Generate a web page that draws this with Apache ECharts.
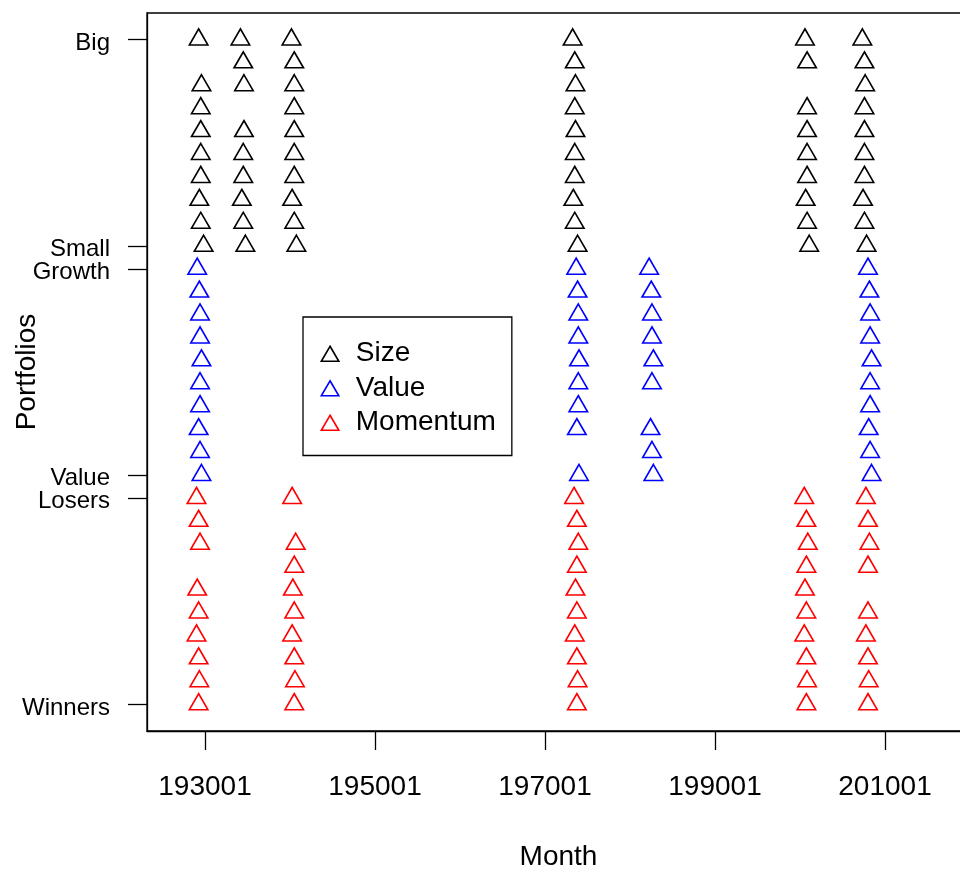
<!DOCTYPE html>
<html>
<head>
<meta charset="utf-8">
<script src="https://cdn.jsdelivr.net/npm/echarts@6/dist/echarts.min.js"></script>
<style>html,body{margin:0;padding:0;background:#fff;}#c{width:960px;height:869px;}</style>
</head>
<body>
<div id="c"></div>
<script>
// Tick labels
const xTickMonths = [193001, 195001, 197001, 199001, 201001];
const yTickPositions = [1, 10, 11, 20, 21, 30];
const yTickLabels = ['Winners', 'Losers', 'Value', 'Growth', 'Small', 'Big'];
const seriesNames = ['Size', 'Value', 'Momentum'];
const seriesColors = ['#000000', '#0000FF', '#FF0000'];

// Size portfolios (21 = Small ... 30 = Big)
const sizeMonths = [
  192904, 192908, 192907, 192907, 192907, 192907, 192905, 192907, 192911,
  193403, 193407, 193408, 193408, 193407, 193407, 193405, 193407, 193410,
  194003, 194007, 194007, 194007, 194007, 194007, 194007, 194004, 194007, 194010,
  197304, 197307, 197308, 197307, 197308, 197307, 197307, 197305, 197307, 197311,
  200008, 200011, 200011, 200011, 200011, 200011, 200009, 200011, 200102,
  200705, 200708, 200709, 200708, 200708, 200708, 200708, 200706, 200708, 200711
];
const sizePortfolios = [
  30, 28, 27, 26, 25, 24, 23, 22, 21,
  30, 29, 28, 26, 25, 24, 23, 22, 21,
  30, 29, 28, 27, 26, 25, 24, 23, 22, 21,
  30, 29, 28, 27, 26, 25, 24, 23, 22, 21,
  30, 29, 27, 26, 25, 24, 23, 22, 21,
  30, 29, 28, 27, 26, 25, 24, 23, 22, 21
];

// Value portfolios (11 = Value ... 20 = Growth)
const valueMonths = [
  192902, 192905, 192906, 192906, 192908, 192906, 192906, 192904, 192906, 192908,
  197309, 197311, 197312, 197312, 197401, 197312, 197312, 197310, 197401,
  198204, 198207, 198208, 198208, 198210, 198208, 198206, 198208, 198210,
  200801, 200803, 200804, 200804, 200806, 200804, 200804, 200802, 200804, 200806
];
const valuePortfolios = [
  20, 19, 18, 17, 16, 15, 14, 13, 12, 11,
  20, 19, 18, 17, 16, 15, 14, 13, 11,
  20, 19, 18, 17, 16, 15, 13, 12, 11,
  20, 19, 18, 17, 16, 15, 14, 13, 12, 11
];

// Momentum portfolios (1 = Winners ... 10 = Losers)
const momentumMonths = [
  192901, 192904, 192906, 192902, 192904, 192901, 192904, 192905, 192904,
  194004, 194009, 194007, 194005, 194007, 194004, 194007, 194008, 194007,
  197306, 197310, 197312, 197310, 197308, 197310, 197307, 197310, 197311, 197310,
  200007, 200010, 200012, 200010, 200008, 200010, 200007, 200010, 200011, 200010,
  200710, 200801, 200803, 200801, 200801, 200710, 200801, 200802, 200801
];
const momentumPortfolios = [
  10, 9, 8, 6, 5, 4, 3, 2, 1,
  10, 8, 7, 6, 5, 4, 3, 2, 1,
  10, 9, 8, 7, 6, 5, 4, 3, 2, 1,
  10, 9, 8, 7, 6, 5, 4, 3, 2, 1,
  10, 9, 8, 7, 5, 4, 3, 2, 1
];

function monthToYear(m) {
  return Math.floor(m / 100) + ((m % 100) - 1) / 12;
}
function zip(months, ports) {
  return months.map((m, i) => [monthToYear(m), ports[i]]);
}
const groups = [
  zip(sizeMonths, sizePortfolios),
  zip(valueMonths, valuePortfolios),
  zip(momentumMonths, momentumPortfolios)
];

const FONT = "'Liberation Sans', Arial, Helvetica, sans-serif";
const chart = echarts.init(document.getElementById('c'), null, {renderer: 'canvas'});

const series = seriesNames.map((name, i) => ({
  name: name,
  type: 'scatter',
  data: groups[i],
  symbol: 'triangle',
  symbolSize: [18.5, 16],
  symbolOffset: [0, -2.7],
  itemStyle: {color: 'rgba(0,0,0,0)', borderColor: seriesColors[i], borderWidth: 1.6, opacity: 1},
  emphasis: {disabled: true},
  silent: true,
  animation: false
}));

chart.setOption({
  animation: false,
  backgroundColor: '#ffffff',
  textStyle: {fontFamily: FONT},
  grid: {
    left: 147, top: 13, bottom: 138, right: -10,
    outerBoundsMode: 'none',
    containLabel: false,
    show: true, borderColor: '#000', borderWidth: 1.3, backgroundColor: 'transparent'
  },
  xAxis: {
    type: 'value',
    min: 1930 - 58 / 8.5,
    max: 2020,
    name: 'Month',
    nameLocation: 'middle',
    nameGap: 112,
    nameMoveOverlap: false,
    nameTextStyle: {fontSize: 28, color: '#000', fontFamily: FONT},
    splitLine: {show: false},
    axisLine: {show: true, onZero: false, lineStyle: {color: '#000', width: 1.3}},
    axisTick: {show: true, inside: false, length: 19, lineStyle: {color: '#000', width: 1.3},
      customValues: xTickMonths.map(monthToYear)},
    axisLabel: {
      show: true, margin: 42, fontSize: 28, color: '#000', fontFamily: FONT,
      customValues: xTickMonths.map(monthToYear),
      formatter: function (v) {
        const idx = xTickMonths.findIndex(m => Math.abs(monthToYear(m) - v) < 1e-6);
        return idx >= 0 ? String(xTickMonths[idx]) : '';
      }
    }
  },
  yAxis: {
    type: 'value',
    min: -0.16,
    max: 31.16,
    name: 'Portfolios',
    nameLocation: 'middle',
    nameRotate: 90,
    nameGap: 106,
    nameMoveOverlap: false,
    nameTextStyle: {fontSize: 28, color: '#000', fontFamily: FONT},
    splitLine: {show: false},
    axisLine: {show: true, onZero: false, lineStyle: {color: '#000', width: 1.3}},
    axisTick: {show: true, inside: false, length: 19, lineStyle: {color: '#000', width: 1.3},
      customValues: yTickPositions},
    axisLabel: {
      show: true, margin: 37, fontSize: 24, color: '#000', fontFamily: FONT,
      customValues: yTickPositions,
      formatter: function (v) {
        const idx = yTickPositions.indexOf(Math.round(v));
        return idx >= 0 ? '{a|' + yTickLabels[idx] + '}' : '';
      },
      rich: {
        a: {fontSize: 24, color: '#000', fontFamily: FONT, padding: [7, 0, 0, 0]}
      }
    }
  },
  legend: {
    show: true,
    orient: 'vertical',
    left: 303,
    top: 317,
    selectedMode: false,
    padding: [19.5, 16, 15.5, 17.5],
    itemGap: 0,
    itemWidth: 17.5,
    itemHeight: 15,
    borderColor: '#000',
    borderWidth: 1.3,
    backgroundColor: '#fff',
    textStyle: {fontSize: 28, lineHeight: 34.5, color: '#000', fontFamily: FONT, padding: [0, 0, 0, 12]},
    data: seriesNames.map((n, i) => ({
      name: n,
      icon: 'triangle',
      itemStyle: {color: 'rgba(0,0,0,0)', borderColor: seriesColors[i], borderWidth: 1.6}
    }))
  },
  series: series
});
</script>
</body>
</html>
